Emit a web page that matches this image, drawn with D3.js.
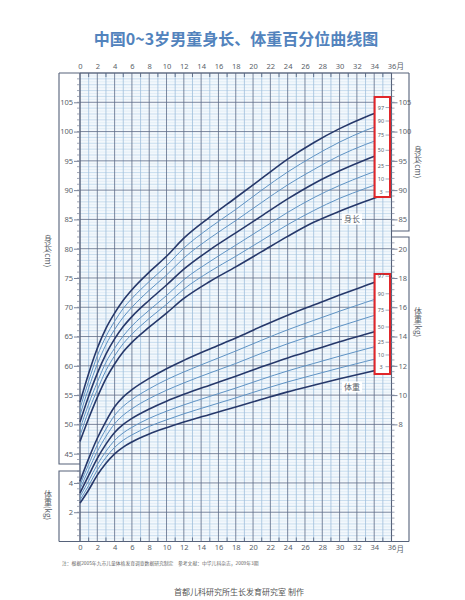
<!DOCTYPE html>
<html><head><meta charset="utf-8">
<script src="https://cdn.jsdelivr.net/npm/d3@7/dist/d3.min.js"></script>
<style>body{margin:0;background:#fff}svg{display:block}</style>
</head><body><svg id="c" width="465" height="600"></svg>
<script>
// ---- data ----
const months = [0,1,2,3,4,5,6,8,10,12,15,18,21,24,27,30,33,36];
const percentiles = ["3","10","25","50","75","90","97"];
// length (cm)
const lenP3  = [47.1,51.0,54.6,57.8,60.3,62.4,64.0,66.6,69.0,71.5,74.4,76.9,79.5,82.1,84.5,86.4,88.1,89.7];
const lenP10 = [48.1,52.3,55.9,59.2,61.7,63.8,65.4,68.1,70.5,73.1,76.1,78.7,81.4,84.1,86.5,88.6,90.3,91.9];
const lenP25 = [49.2,53.5,57.2,60.6,63.0,65.1,66.8,69.5,72.0,74.7,77.8,80.6,83.4,86.2,88.7,90.8,92.6,94.2];
const lenP50 = [50.4,54.8,58.7,62.0,64.6,66.7,68.4,71.2,73.8,76.5,79.8,82.7,85.6,88.5,91.1,93.3,95.2,96.8];
const lenP75 = [51.6,56.2,60.3,63.6,66.2,68.3,70.0,72.9,75.5,78.4,81.8,84.8,87.9,90.9,93.5,95.9,97.8,99.4];
const lenP90 = [52.7,57.4,61.7,65.0,67.6,69.8,71.5,74.4,77.1,80.1,83.6,86.7,90.0,93.1,95.8,98.2,100.2,101.8];
const lenP97 = [53.8,58.7,63.0,66.4,69.0,71.2,73.0,76.0,78.7,81.8,85.4,88.7,92.0,95.3,98.1,100.5,102.5,104.1];
// weight (kg)
const wtP3  = [2.62,3.52,4.53,5.34,5.99,6.45,6.80,7.34,7.77,8.16,8.68,9.19,9.71,10.22,10.67,11.11,11.53,11.94];
const wtP10 = [2.83,3.82,4.88,5.74,6.43,6.92,7.28,7.86,8.31,8.72,9.27,9.81,10.37,10.90,11.38,11.85,12.30,12.74];
const wtP25 = [3.06,4.14,5.25,6.16,6.90,7.42,7.80,8.41,8.90,9.33,9.91,10.48,11.08,11.65,12.16,12.66,13.14,13.61];
const wtP50 = [3.32,4.51,5.68,6.65,7.45,8.00,8.41,9.05,9.58,10.05,10.68,11.29,11.93,12.54,13.09,13.64,14.15,14.65];
const wtP75 = [3.59,4.90,6.15,7.18,8.04,8.63,9.07,9.76,10.33,10.83,11.51,12.16,12.86,13.51,14.11,14.70,15.26,15.80];
const wtP90 = [3.85,5.27,6.59,7.68,8.61,9.24,9.70,10.43,11.05,11.58,12.30,13.01,13.75,14.46,15.10,15.73,16.33,16.92];
const wtP97 = [4.12,5.66,7.05,8.21,9.20,9.88,10.37,11.14,11.80,12.37,13.15,13.90,14.70,15.46,16.15,16.83,17.48,18.12];
const monthTicks = [0,2,4,6,8,10,12,14,16,18,20,22,24,26,28,30,32,34,36];
const lenLeftTicks = [45,50,55,60,65,70,75,80,85,90,95,100,105];
const lenRightTicks = [85,90,95,100,105];
const wtLeftTicks = [2,4];
const wtRightTicks = [8,10,12,14,16,18,20];

const lenSeries = [lenP3,lenP10,lenP25,lenP50,lenP75,lenP90,lenP97];
const wtSeries = [wtP3,wtP10,wtP25,wtP50,wtP75,wtP90,wtP97];

// ---- layout ----
const svg = d3.select("#c");
const X0 = 80, X1 = 391.5, TOP = 73, BOT = 541.5, LF = 59, RF = 409;
const x = d3.scaleLinear().domain([0,36]).range([X0,X1]);
const yLen = d3.scaleLinear().domain([30,110]).range([BOT,TOP]);
const yWt = d3.scaleLinear().domain([0,32]).range([BOT,TOP]);
const gridLight = "#b6d1e8", gridDark = "#5d6b86", txt = "#5a5f6a";
const darkLine = "#26386a", lightLine = "#5f93c4";
const font = "'Noto Sans', 'Noto Sans CJK SC', sans-serif";
const cjk = "'Noto Sans CJK SC', sans-serif";

// title
svg.append("text").attr("x",236).attr("y",45).attr("text-anchor","middle")
  .attr("font-family",cjk).attr("font-weight","bold")
  .attr("font-size",16).attr("fill","#5283bd").text("中国0~3岁男童身长、体重百分位曲线图");

// grid
const g = svg.append("g");
svg.insert("rect","g").attr("x",X0).attr("y",TOP).attr("width",X1-X0).attr("height",BOT-TOP).attr("fill","#f3f8fc");
d3.range(30,110.01,0.5).forEach(v=>{
  if (v%1===0) return;
  g.append("line").attr("x1",X0).attr("x2",X1).attr("y1",yLen(v)).attr("y2",yLen(v))
   .attr("stroke","#d9e7f3").attr("stroke-width",0.6);
});
d3.range(30,110.01,1).forEach(v=>{
  if (v%5===0) return;
  g.append("line").attr("x1",X0).attr("x2",X1).attr("y1",yLen(v)).attr("y2",yLen(v))
   .attr("stroke",gridLight).attr("stroke-width",0.7);
});
d3.range(0,36.01,1).forEach(m=>{
  if (m%2===0) return;
  g.append("line").attr("x1",x(m)).attr("x2",x(m)).attr("y1",TOP).attr("y2",BOT)
   .attr("stroke","#9fbfdc").attr("stroke-width",0.8);
});
d3.range(30,110.01,5).forEach(v=>{
  g.append("line").attr("x1",X0).attr("x2",X1).attr("y1",yLen(v)).attr("y2",yLen(v))
   .attr("stroke",gridDark).attr("stroke-width",0.8);
});
monthTicks.forEach(m=>{
  g.append("line").attr("x1",x(m)).attr("x2",x(m)).attr("y1",TOP).attr("y2",BOT)
   .attr("stroke",gridDark).attr("stroke-width",0.8);
});
d3.range(1,36,2).forEach(m=>{
  [[TOP,TOP+4],[BOT-4,BOT]].forEach(([a,b])=>g.append("line").attr("x1",x(m)).attr("x2",x(m))
    .attr("y1",a).attr("y2",b).attr("stroke",gridDark).attr("stroke-width",0.9));
});

// frame
const fr = svg.append("g").attr("fill","none").attr("stroke","#56627a").attr("stroke-width",1.1);
fr.append("line").attr("x1",LF).attr("x2",RF).attr("y1",TOP).attr("y2",TOP);
fr.append("line").attr("x1",LF).attr("x2",RF).attr("y1",BOT).attr("y2",BOT);
fr.append("path").attr("d",`M${LF},${TOP}V464H${X0}M${X0},471H${LF}V${BOT}`);
fr.append("path").attr("d",`M${RF},${TOP}V231H${X1}M${X1},237H${RF}V${BOT}`);
fr.append("line").attr("x1",X0).attr("x2",X0).attr("y1",TOP).attr("y2",BOT);
fr.append("line").attr("x1",X1).attr("x2",X1).attr("y1",TOP).attr("y2",BOT);

// ruler ticks
const rt = svg.append("g").attr("stroke","#7a849a").attr("stroke-width",0.7);
d3.range(31,110,1).forEach(v=>{
  const yy = yLen(v);
  if (!(yy>464 && yy<471)) rt.append("line").attr("x1",X0-3).attr("x2",X0).attr("y1",yy).attr("y2",yy);
  if (!(yy>231 && yy<237)) rt.append("line").attr("x1",X1).attr("x2",X1+3).attr("y1",yy).attr("y2",yy);
});

// axes
function styleAxis(sel){
  sel.select(".domain").remove();
  sel.selectAll("text").attr("font-family",font).attr("font-size",7.5).attr("fill",txt);
  sel.selectAll(".tick line").attr("stroke","#7a849a");
}
svg.append("g").attr("transform",`translate(0,${TOP})`)
  .call(d3.axisTop(x).tickValues(monthTicks).tickSize(0).tickPadding(4)).call(styleAxis);
svg.append("g").attr("transform",`translate(0,${BOT})`)
  .call(d3.axisBottom(x).tickValues(monthTicks).tickSize(0).tickPadding(3)).call(styleAxis);
[TOP-4, BOT+10.5].forEach(yy=>svg.append("text").attr("x",x(36)+5).attr("y",yy)
  .attr("font-family",font).attr("font-size",7.5).attr("fill",txt).text("月"));

svg.append("g").attr("transform",`translate(${X0},0)`)
  .call(d3.axisLeft(yLen).tickValues(lenLeftTicks).tickSize(6).tickPadding(1)).call(styleAxis);
svg.append("g").attr("transform",`translate(${X0},0)`)
  .call(d3.axisLeft(yWt).tickValues(wtLeftTicks).tickSize(6).tickPadding(1)).call(styleAxis);
svg.append("g").attr("transform",`translate(${X1},0)`)
  .call(d3.axisRight(yLen).tickValues(lenRightTicks).tickSize(6).tickPadding(1)).call(styleAxis);
svg.append("g").attr("transform",`translate(${X1},0)`)
  .call(d3.axisRight(yWt).tickValues(wtRightTicks).tickSize(6).tickPadding(1)).call(styleAxis);

// vertical axis titles (vertical writing: CJK upright, latin sideways)
function vtext(xx,yy,t){
  svg.append("text").attr("x",xx).attr("y",yy).attr("text-anchor","middle")
   .style("writing-mode","vertical-rl").style("text-orientation","mixed")
   .attr("font-family",cjk).attr("font-size",8).attr("fill",txt).text(t);
}
vtext(48,251,"身长(cm)");
vtext(48,505,"体重(kg)");
vtext(418,162,"身长(cm)");
vtext(418,322,"体重(kg)");

// curves
const darkSet = new Set(["3","50","97"]);
const lineLen = d3.line().x((d,i)=>x(months[i])).y(d=>yLen(d)).curve(d3.curveMonotoneX);
const lineWt = d3.line().x((d,i)=>x(months[i])).y(d=>yWt(d)).curve(d3.curveMonotoneX);
const cg = svg.append("g").attr("fill","none");
[[lenSeries,lineLen],[wtSeries,lineWt]].forEach(([ser,ln])=>{
  ser.forEach((s,i)=>{
    const dk = darkSet.has(percentiles[i]);
    cg.append("path").attr("d",ln(s)).attr("stroke",dk?darkLine:lightLine)
      .attr("stroke-width",dk?1.6:1.0);
  });
});

// curve group labels
[["身长",352,219],["体重",352,387]].forEach(([t,xx,yy])=>{
  svg.append("rect").attr("x",xx-10).attr("y",yy-5.5).attr("width",20).attr("height",11).attr("fill","#fff");
  svg.append("text").attr("x",xx).attr("y",yy+3).attr("text-anchor","middle")
   .attr("font-family",cjk).attr("font-size",8).attr("fill",txt).text(t);
});

// percentile boxes
const bx0 = x(34.05), bx1 = 390;
[[lenSeries,yLen,97,197],[wtSeries,yWt,274,374]].forEach(([ser,sc,y0,y1])=>{
  svg.append("rect").attr("x",bx0).attr("y",y0).attr("width",bx1-bx0).attr("height",y1-y0)
    .attr("fill","#fff").attr("stroke","#e0262a").attr("stroke-width",2);
  ser.forEach((s,i)=>{
    const yy = sc(s[s.length-1]);
    svg.append("text").attr("x",381).attr("y",yy+2).attr("text-anchor","middle")
      .attr("font-family",font).attr("font-size",5.5).attr("fill",txt).text(percentiles[i]);
    svg.append("line").attr("x1",385.5).attr("x2",389).attr("y1",yy).attr("y2",yy)
      .attr("stroke","#7a849a").attr("stroke-width",0.7);
  });
});

// footnotes
svg.append("text").attr("x",62).attr("y",565).attr("font-family",cjk)
  .attr("font-size",4.8).attr("fill","#666").text("注：根据2005年九市儿童体格发育调查数据研究制定");
svg.append("text").attr("x",178).attr("y",565).attr("font-family",cjk)
  .attr("font-size",4.8).attr("fill","#666").text("参考文献：中华儿科杂志，2009年3期");
svg.append("text").attr("x",239).attr("y",595).attr("text-anchor","middle").attr("font-family",cjk)
  .attr("font-size",8).attr("fill","#555").text("首都儿科研究所生长发育研究室 制作");
</script></body></html>
